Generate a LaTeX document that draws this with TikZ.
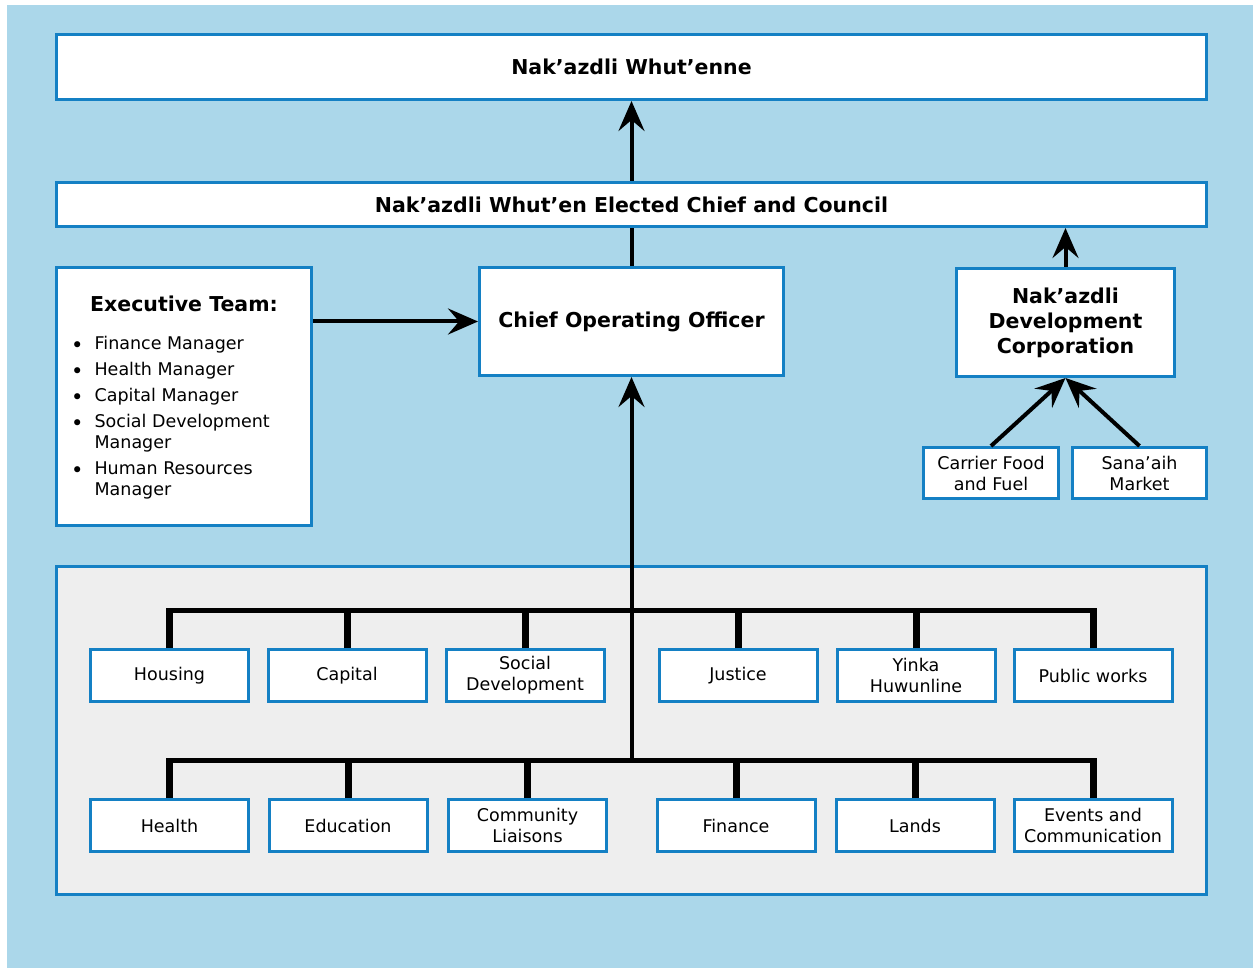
\documentclass[tikz,border=0pt]{standalone}
\usepackage{fontspec}
\setmainfont{DejaVu Sans}
\usetikzlibrary{arrows.meta}

\definecolor{skyback}{RGB}{171,215,234}
\definecolor{boxline}{RGB}{20,128,196}
\definecolor{panelgrey}{RGB}{238,238,238}

\newcommand{\dept}[4]{\node[deptbox] (#1) at (#2,#3) {#4};}
\newcommand{\drop}[2]{\draw[droplink] (#1.north) -- ([yshift=2.5pt]#1.north |- #2);}
\newcommand{\bul}{\raisebox{-3pt}{\fontsize{21}{21}\selectfont •}}

\begin{document}
\begin{tikzpicture}[x=1pt, y=-1pt,
  box/.style={draw=boxline, line width=3pt, fill=white, inner sep=0pt, align=center},
  deptbox/.style={box, minimum width=158pt, minimum height=52pt,
    font=\fontsize{17.5}{21}\selectfont},
  smallbox/.style={box, font=\fontsize{17.5}{21}\selectfont},
  bigbox/.style={box, font=\bfseries\fontsize{20.5}{25}\selectfont},
  uplink/.style={line width=4pt, -{Stealth[length=30pt, width=26pt, inset=11pt]}},
  buslink/.style={line width=5pt},
  droplink/.style={line width=7pt}]

  \useasboundingbox (0,0) rectangle (1253,968);
  \fill[white] (0,0) rectangle (1253,968);
  \fill[skyback] (7,5) rectangle (1253,968);

  % Governance
  % ----------

  \node[bigbox, minimum width=1150pt, minimum height=65pt] (whutenne) at (631.5,67) {Nak’azdli Whut’enne};
  \node[bigbox, minimum width=1150pt, minimum height=44pt] (council) at (631.5,204.5) {Nak’azdli Whut’en Elected Chief and Council};
  \node[bigbox, minimum width=304pt, minimum height=108pt] (coo) at (631.5,321.5) {Chief Operating Officer};
  \node[bigbox, minimum width=218pt, minimum height=108pt] (ndc) at (1065.5,322.5) {Nak’azdli\\Development\\Corporation};

  \draw[uplink] (council.north) -- (whutenne.south);
  \draw[line width=4pt] (coo.north) -- (council.south);
  \draw[uplink] (ndc.north) -- (ndc.north |- council.south);

  % Executive team
  % --------------

  \node[box, minimum width=255pt, minimum height=258pt] (exec) at (184,396.5) {};
  \node[font=\bfseries\fontsize{20.5}{25}\selectfont] (exectitle) at (184,304) {Executive Team:};
  \node[anchor=north west, inner sep=0pt, font=\fontsize{17.5}{21}\selectfont] (execlist) at (71,335)
  {\begin{tabular}{@{}c@{\hspace{11pt}}l@{}}
    \bul & Finance Manager\\[5pt]
    \bul & Health Manager\\[5pt]
    \bul & Capital Manager\\[5pt]
    \bul & Social Development\\
      & Manager\\[5pt]
    \bul & Human Resources\\
      & Manager
  \end{tabular}};

  \draw[uplink] (exec.east |- coo.west) -- (coo.west);

  % Development corporation
  % -----------------------

  \node[smallbox, minimum width=135pt, minimum height=51pt] (carrier) at (991,473) {Carrier Food\\and Fuel};
  \node[smallbox, minimum width=134pt, minimum height=51pt] (sanaaih) at (1139.5,473) {Sana’aih\\Market};

  \draw[uplink] (carrier.north) -- (ndc.south);
  \draw[uplink] (sanaaih.north) -- (ndc.south);

  % Departments
  % -----------

  \node[box, fill=panelgrey, minimum width=1150pt, minimum height=328pt] (panel) at (631.5,730.5) {};

  \coordinate (busA) at (631.5,610);
  \coordinate (busB) at (631.5,760);

  \dept{hous}{169.5}{675.5}{Housing}
  \dept{capi}{347}{675.5}{Capital}
  \dept{socd}{525}{675.5}{Social\\Development}
  \dept{just}{738}{675.5}{Justice}
  \dept{yink}{916}{675.5}{Yinka\\Huwunline}
  \dept{publ}{1093}{675.5}{Public works}

  \dept{heal}{169.5}{825.5}{Health}
  \dept{educ}{348}{825.5}{Education}
  \dept{comm}{527.5}{825.5}{Community\\Liaisons}
  \dept{fina}{736}{825.5}{Finance}
  \dept{land}{915}{825.5}{Lands}
  \dept{even}{1093}{825.5}{Events and\\Communication}

  \draw[buslink] ([xshift=-3.5pt]hous.north |- busA) -- ([xshift=3.5pt]publ.north |- busA);
  \draw[buslink] ([xshift=-3.5pt]heal.north |- busB) -- ([xshift=3.5pt]even.north |- busB);

  \foreach \n in {hous, capi, socd, just, yink, publ}
  \drop{\n}{busA};

  \foreach \n in {heal, educ, comm, fina, land, even}
  \drop{\n}{busB};

  \draw[uplink] (busB) -- (coo.south);

\end{tikzpicture}
\end{document}
